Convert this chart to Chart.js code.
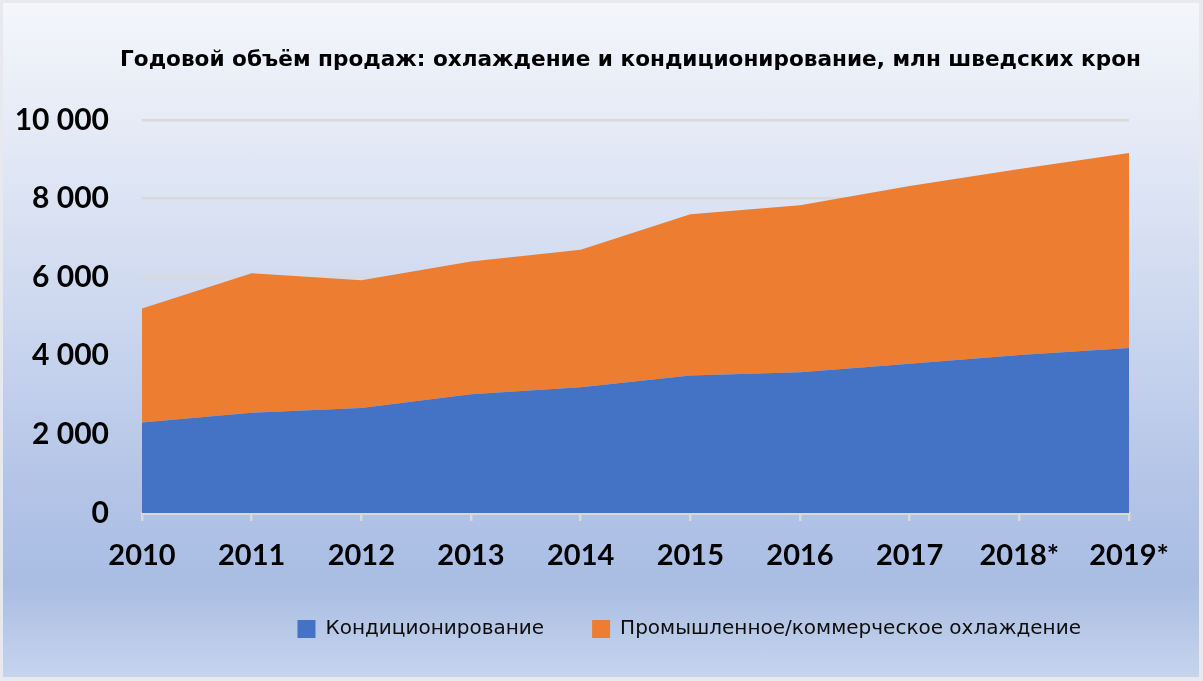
<!DOCTYPE html>
<html lang="ru">
<head>
<meta charset="utf-8">
<script src="https://cdn.jsdelivr.net/npm/chart.js@4.4.1/dist/chart.umd.min.js"></script>
<style>
  html, body { margin: 0; padding: 0; }
  body { width: 1203px; height: 681px; background: #e7e9ee; position: relative; overflow: hidden; }
  #panel {
    position: absolute; left: 3px; top: 3px; width: 1196px; height: 674px;
    background: linear-gradient(to bottom, #f4f6fb 0%, #e2e8f5 22%, #c9d5ee 50%, #b3c4e7 72%, #a9bde3 86%, #c6d4ed 100%);
  }
  canvas { display: block; }
</style>
</head>
<body>
<div id="panel">
  <canvas id="salesChart" width="1196" height="674"></canvas>
</div>
<script>
const years = ["2010", "2011", "2012", "2013", "2014", "2015", "2016", "2017", "2018*", "2019*"];
const airCon = [2300, 2550, 2670, 3020, 3200, 3500, 3580, 3800, 4020, 4200];
const refrigeration = [2900, 3550, 3250, 3380, 3500, 4100, 4250, 4520, 4730, 4960];
const yTicks = [0, 2000, 4000, 6000, 8000, 10000];

const titleText = "Годовой объём продаж: охлаждение и кондиционирование, млн шведских крон";
const seriesNames = ["Кондиционирование", "Промышленное/коммерческое охлаждение"];

const BLUE = "#4472c4";
const ORANGE = "#ed7d31";
const GRID = "#d9d9d9";

// 10000 -> "10 000"
const fmt = (v) => String(v).replace(/\B(?=(\d{3})+(?!\d))/g, " ");

// title box is the plot width by default, a bit too narrow for the long title
const widenTitle = {
  id: "widenTitle",
  afterLayout(chart) {
    const t = chart.titleBlock;
    if (!t) return;
    t.left -= 24;
    t.right += 14;
    t.width = t.right - t.left;
  },
};

const ctx = document.getElementById("salesChart").getContext("2d");

new Chart(ctx, {
  type: "line",
  data: {
    labels: years,
    datasets: [
      {
        label: seriesNames[0],
        data: airCon,
        backgroundColor: BLUE,
        borderColor: BLUE,
        borderWidth: 0,
        pointRadius: 0,
        fill: "origin",
        tension: 0,
      },
      {
        label: seriesNames[1],
        data: refrigeration,
        backgroundColor: ORANGE,
        borderColor: ORANGE,
        borderWidth: 0,
        pointRadius: 0,
        fill: "-1",
        tension: 0,
      },
    ],
  },
  plugins: [widenTitle],
  options: {
    responsive: false,
    animation: false,
    devicePixelRatio: 1,
    layout: { padding: { left: 0, right: 70, top: 0, bottom: 28 } },
    plugins: {
      title: {
        display: true,
        text: titleText,
        fullSize: false,
        color: "#000",
        font: { family: "'DejaVu Sans', Verdana, sans-serif", size: 21.6, weight: "bold" },
        padding: { top: 44, bottom: 47 },
      },
      legend: {
        position: "bottom",
        fullSize: false,
        align: "end",
        labels: {
          color: "#0d0d0d",
          font: { family: "'DejaVu Sans', Tahoma, sans-serif", size: 20 },
          boxWidth: 18,
          boxHeight: 18,
          padding: 48,
        },
      },
      tooltip: { enabled: false },
    },
    scales: {
      x: {
        offset: false,
        grid: { drawOnChartArea: false, drawTicks: true, tickLength: 8, color: GRID, lineWidth: 2.5 },
        border: { display: true, color: GRID, width: 3 },
        ticks: {
          color: "#000",
          font: { family: "Lato, 'Open Sans', sans-serif", size: 29, weight: "bold" },
          padding: 17,
          maxRotation: 0,
          autoSkip: false,
        },
        afterFit: (scale) => { scale.height = 58; },
      },
      y: {
        stacked: true,
        min: 0,
        max: 10000,
        afterBuildTicks: (scale) => { scale.ticks = yTicks.map((v) => ({ value: v })); },
        grid: { color: GRID, lineWidth: 2.5, drawTicks: false },
        border: { display: false },
        ticks: {
          color: "#000",
          font: { family: "Lato, 'Open Sans', sans-serif", size: 30, weight: "bold" },
          padding: 33,
          callback: (v) => fmt(v),
        },
        afterFit: (scale) => { scale.width = 139; },
      },
    },
  },
});
</script>
</body>
</html>
